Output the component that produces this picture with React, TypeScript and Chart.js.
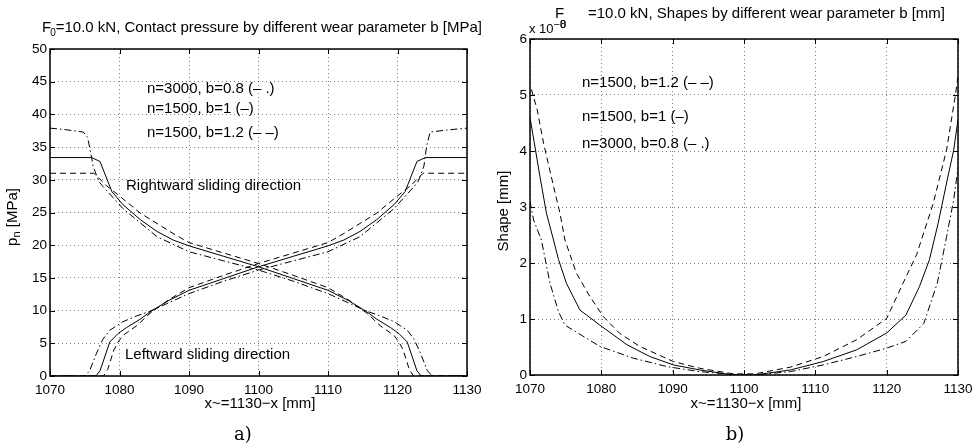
import React, { useEffect, useRef } from "react";
import { Chart, registerables } from "chart.js";
Chart.register(...registerables);

// ---------- shared axis ticks ----------
const X_TICKS = [1070, 1080, 1090, 1100, 1110, 1120, 1130];
const P_TICKS = [0, 5, 10, 15, 20, 25, 30, 35, 40, 45, 50];
const S_TICKS = [0, 1, 2, 3, 4, 5, 6];

// ---------- panel a) contact pressure [MPa] ----------
// Rightward sliding direction
const PR_SOLID_X = [1070, 1076.0, 1077.2, 1078.9, 1080.5, 1083, 1085.4, 1087.7, 1090, 1095, 1100, 1105, 1110, 1113, 1115.6, 1117, 1119, 1120.2, 1121.4, 1122.8, 1123.4, 1130];
const PR_SOLID_Y = [33.4, 33.4, 32.8, 28.2, 26.2, 23.9, 22.1, 20.8, 19.9, 18.3, 16.7, 14.9, 13.1, 11.5, 9.8, 8.7, 7.4, 6.5, 5.2, 0.8, 0, 0];
const PR_DASH_X = [1070, 1076.3, 1077.0, 1078.0, 1079.8, 1083, 1087.7, 1090, 1095, 1100, 1105, 1110, 1113, 1115.6, 1117.5, 1119.5, 1120.2, 1120.8, 1121.7, 1122.3, 1130];
const PR_DASH_Y = [31.0, 31.0, 30.3, 29.2, 27.7, 24.9, 21.8, 20.4, 18.8, 17.2, 15.4, 13.5, 11.6, 9.6, 7.7, 6.2, 5.2, 4.0, 1.0, 0, 0];
const PR_DD_X = [1070, 1072, 1074.8, 1075.4, 1075.8, 1076.2, 1077, 1077.6, 1080.5, 1085.4, 1090, 1095, 1100, 1105, 1110, 1115.6, 1117.5, 1119.5, 1121.4, 1122.4, 1123.3, 1124.3, 1125.0, 1130];
const PR_DD_Y = [37.9, 37.7, 37.3, 36.5, 34.5, 32.1, 29.8, 29.0, 25.6, 21.3, 19.0, 17.6, 16.2, 14.5, 12.6, 9.9, 9.2, 8.3, 7.0, 5.6, 3.5, 0.8, 0, 0];
// Leftward sliding direction
const PL_SOLID_X = [1070, 1076.6, 1077.2, 1078.6, 1079.8, 1081, 1083, 1084.4, 1087, 1090, 1095, 1100, 1105, 1110, 1112.3, 1114.6, 1117, 1119.5, 1121.1, 1122.8, 1124.0, 1130];
const PL_SOLID_Y = [0, 0, 0.8, 5.2, 6.5, 7.4, 8.7, 9.8, 11.5, 13.1, 14.9, 16.7, 18.3, 19.9, 20.8, 22.1, 23.9, 26.2, 28.2, 32.8, 33.4, 33.4];
const PL_DASH_X = [1070, 1077.7, 1078.3, 1079.2, 1079.8, 1080.5, 1082.5, 1084.4, 1087, 1090, 1095, 1100, 1105, 1110, 1112.3, 1117, 1120.2, 1122.0, 1123.0, 1123.7, 1130];
const PL_DASH_Y = [0, 0, 1.0, 4.0, 5.2, 6.2, 7.7, 9.6, 11.6, 13.5, 15.4, 17.2, 18.8, 20.4, 21.8, 24.9, 27.7, 29.2, 30.3, 31.0, 31.0];
const PL_DD_X = [1070, 1075.0, 1075.7, 1076.7, 1077.6, 1078.6, 1080.5, 1082.5, 1084.4, 1090, 1095, 1100, 1105, 1110, 1114.6, 1119.5, 1122.4, 1123.0, 1123.8, 1124.2, 1124.7, 1127, 1130];
const PL_DD_Y = [0, 0, 0.8, 3.5, 5.6, 7.0, 8.3, 9.2, 9.9, 12.6, 14.5, 16.2, 17.6, 19.0, 21.3, 25.6, 29.0, 29.8, 32.1, 35.2, 37.3, 37.6, 37.9];

// ---------- panel b) shapes [x 1e-8 mm] ----------
const S_SOLID_X = [1070, 1071.4, 1072.3, 1073.3, 1074.0, 1075.1, 1077.0, 1079.8, 1083.6, 1086.8, 1090.1, 1093.8, 1098.5, 1101.5, 1106.5, 1111.1, 1115.8, 1120, 1122.7, 1124.6, 1126.0, 1127.2, 1128.4, 1129.4, 1130];
const S_SOLID_Y = [4.6, 3.54, 2.89, 2.41, 2.06, 1.64, 1.16, 0.89, 0.54, 0.33, 0.18, 0.09, 0.0, 0.0, 0.09, 0.24, 0.45, 0.75, 1.07, 1.58, 2.06, 2.7, 3.43, 4.02, 4.56];
const S_DASH_X = [1070.2, 1071, 1071.9, 1073.3, 1074.2, 1074.9, 1076.5, 1078.4, 1080.3, 1082.6, 1085.4, 1090.1, 1093.8, 1098.5, 1101.5, 1106.5, 1111.1, 1115.8, 1120, 1122.3, 1124.2, 1126.5, 1128.4, 1129.6, 1130];
const S_DASH_Y = [5.1, 4.74, 4.14, 3.37, 2.89, 2.41, 1.82, 1.40, 1.04, 0.74, 0.51, 0.24, 0.12, 0.02, 0.02, 0.14, 0.33, 0.63, 1.01, 1.64, 2.15, 3.05, 4.02, 4.97, 5.33];
const S_DD_X = [1070, 1070.5, 1071.6, 1072.8, 1074.0, 1074.9, 1079.8, 1084.5, 1089.2, 1093.8, 1098.5, 1101.5, 1106.5, 1111.1, 1115.8, 1120, 1122.7, 1125.2, 1127.1, 1128.4, 1129.4, 1130];
const S_DD_Y = [3.1, 2.77, 2.41, 1.64, 1.13, 0.89, 0.51, 0.30, 0.15, 0.06, 0.01, 0.0, 0.06, 0.18, 0.33, 0.48, 0.6, 0.92, 1.64, 2.47, 3.13, 3.7];

const FONT = '"Liberation Sans", Arial, Helvetica, sans-serif';
const SERIF = '"DejaVu Serif", "Liberation Serif", serif';
const DASH = [6, 4];
const DASHDOT = [7, 3, 1.5, 3];
const TXT = 15;
const TICK = 13.5;

const pts = (xs: number[], ys: number[]) => xs.map((x, i) => ({ x, y: ys[i] }));

const ds = (label: string, xs: number[], ys: number[], dash: number[]) => ({
  label,
  data: pts(xs, ys),
  borderColor: "#000",
  backgroundColor: "#000",
  borderWidth: 1,
  borderDash: dash,
  pointRadius: 0,
  tension: 0,
  fill: false,
});

const framePlugin = (xTicks: number[], yTicks: number[]) => ({
  id: "matlabFrame",
  afterDraw(chart: any) {
    const { ctx, chartArea: a, scales } = chart;
    ctx.save();
    ctx.setLineDash([]);
    ctx.strokeStyle = "#000";
    ctx.lineWidth = 1.5;
    const L = Math.round(a.left);
    const R = Math.round(a.right);
    const T = Math.round(a.top);
    const B = Math.round(a.bottom);
    ctx.strokeRect(L, T, R - L, B - T);
    ctx.beginPath();
    ctx.lineWidth = 1;
    xTicks.forEach((v) => {
      const px = Math.round(scales.x.getPixelForValue(v)) + 0.5;
      ctx.moveTo(px, B);
      ctx.lineTo(px, B - 5);
      ctx.moveTo(px, T);
      ctx.lineTo(px, T + 5);
    });
    yTicks.forEach((v) => {
      const py = Math.round(scales.y.getPixelForValue(v)) + 0.5;
      ctx.moveTo(L, py);
      ctx.lineTo(L + 5, py);
      ctx.moveTo(R, py);
      ctx.lineTo(R - 5, py);
    });
    ctx.stroke();
    ctx.restore();
  },
});

const textPlugin = (draw: (ctx: CanvasRenderingContext2D) => void) => ({
  id: "texts",
  afterDraw(chart: any) {
    const ctx = chart.ctx as CanvasRenderingContext2D;
    ctx.save();
    ctx.fillStyle = "#000";
    ctx.textBaseline = "alphabetic";
    draw(ctx);
    ctx.restore();
  },
});

const txt = (ctx: CanvasRenderingContext2D, s: string, x: number, y: number, size: number, align: CanvasTextAlign = "left", family = FONT) => {
  ctx.font = `${size}px ${family}`;
  ctx.textAlign = align;
  ctx.fillText(s, x, y);
  return ctx.measureText(s).width;
};

const makeOptions = (
  yMin: number,
  yMax: number,
  yTicks: number[],
  yAxisWidth: number,
  pad: { left: number; top: number; right: number; bottom: number }
) => ({
  animation: false as const,
  responsive: false,
  devicePixelRatio: 1,
  layout: { padding: pad },
  plugins: {
    legend: { display: false },
    tooltip: { enabled: false },
    title: { display: false },
  },
  scales: {
    x: {
      type: "linear" as const,
      min: 1070,
      max: 1130,
      afterBuildTicks: (s: any) => {
        s.ticks = X_TICKS.map((v) => ({ value: v }));
      },
      afterFit: (s: any) => {
        s.height = 30;
      },
      ticks: {
        color: "#000",
        font: { family: FONT, size: TICK },
        padding: 6,
        maxRotation: 0,
        autoSkip: false,
        callback: (v: any) => String(v),
      },
      grid: { color: "rgba(0,0,0,0.5)", lineWidth: 1, drawTicks: false },
      border: { display: false, dash: [1, 3] },
    },
    y: {
      type: "linear" as const,
      min: yMin,
      max: yMax,
      afterBuildTicks: (s: any) => {
        s.ticks = yTicks.map((v) => ({ value: v }));
      },
      afterFit: (s: any) => {
        s.width = yAxisWidth;
      },
      ticks: {
        color: "#000",
        font: { family: FONT, size: TICK },
        padding: 3,
        autoSkip: false,
        callback: (v: any) => String(v),
      },
      grid: { color: "rgba(0,0,0,0.5)", lineWidth: 1, drawTicks: false },
      border: { display: false, dash: [1, 3] },
    },
  },
});

export default function App() {
  const leftRef = useRef<HTMLCanvasElement>(null);
  const rightRef = useRef<HTMLCanvasElement>(null);

  useEffect(() => {
    const left = new Chart(leftRef.current as HTMLCanvasElement, {
      type: "line",
      data: {
        datasets: [
          ds("Rightward n=1500, b=1", PR_SOLID_X, PR_SOLID_Y, []),
          ds("Rightward n=1500, b=1.2", PR_DASH_X, PR_DASH_Y, DASH),
          ds("Rightward n=3000, b=0.8", PR_DD_X, PR_DD_Y, DASHDOT),
          ds("Leftward n=1500, b=1", PL_SOLID_X, PL_SOLID_Y, []),
          ds("Leftward n=1500, b=1.2", PL_DASH_X, PL_DASH_Y, DASH),
          ds("Leftward n=3000, b=0.8", PL_DD_X, PL_DD_Y, DASHDOT),
        ],
      },
      options: makeOptions(0, 50, P_TICKS, 50, { left: 0, top: 49, right: 23, bottom: 42 }) as any,
      plugins: [
        framePlugin(X_TICKS, P_TICKS),
        textPlugin((ctx) => {
          // title
          let x = 42;
          x += txt(ctx, "F", x, 32, TXT);
          x += txt(ctx, "0", x - 1, 36, 10) - 1;
          txt(ctx, "=10.0 kN, Contact pressure by different wear parameter b [MPa]", x, 32, TXT);
          // annotations
          txt(ctx, "n=3000, b=0.8 (– .)", 147, 93, TXT);
          txt(ctx, "n=1500, b=1 (–)", 147, 113, TXT);
          txt(ctx, "n=1500, b=1.2 (– –)", 147, 137, TXT);
          txt(ctx, "Rightward sliding direction", 126, 190, TXT);
          txt(ctx, "Leftward sliding direction", 125, 359, TXT);
          // axis titles
          txt(ctx, "x~=1130−x [mm]", 260, 408, TXT, "center");
          ctx.save();
          ctx.translate(17, 217);
          ctx.rotate(-Math.PI / 2);
          ctx.font = `${TXT}px ${FONT}`;
          const w1 = ctx.measureText("p").width;
          ctx.font = `11px ${FONT}`;
          const w2 = ctx.measureText("n").width;
          ctx.font = `${TXT}px ${FONT}`;
          const w3 = ctx.measureText(" [MPa]").width;
          let sx = -(w1 + w2 + w3) / 2;
          sx += txt(ctx, "p", sx, 0, TXT);
          sx += txt(ctx, "n", sx, 3, 11);
          txt(ctx, " [MPa]", sx, 0, TXT);
          ctx.restore();
          txt(ctx, "a)", 243, 440, 18, "center", SERIF);
        }),
      ],
    });

    const right = new Chart(rightRef.current as HTMLCanvasElement, {
      type: "line",
      data: {
        datasets: [
          ds("n=1500, b=1", S_SOLID_X, S_SOLID_Y, []),
          ds("n=1500, b=1.2", S_DASH_X, S_DASH_Y, DASH),
          ds("n=3000, b=0.8", S_DD_X, S_DD_Y, DASHDOT),
        ],
      },
      options: makeOptions(0, 6, S_TICKS, 40, { left: 0, top: 39, right: 21, bottom: 43 }) as any,
      plugins: [
        framePlugin(X_TICKS, S_TICKS),
        textPlugin((ctx) => {
          // exponent label
          const w = txt(ctx, "x 10", 39, 33, 13);
          const wm = txt(ctx, "−", 39 + w, 28, 11);
          const x8 = 39 + w + wm;
          txt(ctx, "8", x8, 28, 11);
          // title (subscript 0 overlaps the exponent, as in the original)
          txt(ctx, "F", 65, 18, TXT);
          txt(ctx, "0", x8, 28, 11);
          txt(ctx, "=10.0 kN, Shapes by different wear parameter b [mm]", 98, 18, TXT);
          // annotations
          txt(ctx, "n=1500, b=1.2 (– –)", 92, 87, TXT);
          txt(ctx, "n=1500, b=1 (–)", 92, 121, TXT);
          txt(ctx, "n=3000, b=0.8 (– .)", 92, 148, TXT);
          // axis titles
          txt(ctx, "x~=1130−x [mm]", 256, 408, TXT, "center");
          ctx.save();
          ctx.translate(18, 211);
          ctx.rotate(-Math.PI / 2);
          txt(ctx, "Shape [mm]", 0, 0, TXT, "center");
          ctx.restore();
          txt(ctx, "b)", 245, 440, 18, "center", SERIF);
        }),
      ],
    });

    return () => {
      left.destroy();
      right.destroy();
    };
  }, []);

  return (
    <div style={{ position: "absolute", left: 0, top: 0, width: 979, height: 448, background: "#fff" }}>
      <canvas ref={leftRef} width={490} height={448} style={{ position: "absolute", left: 0, top: 0, width: 490, height: 448 }} />
      <canvas ref={rightRef} width={489} height={448} style={{ position: "absolute", left: 490, top: 0, width: 489, height: 448 }} />
    </div>
  );
}
